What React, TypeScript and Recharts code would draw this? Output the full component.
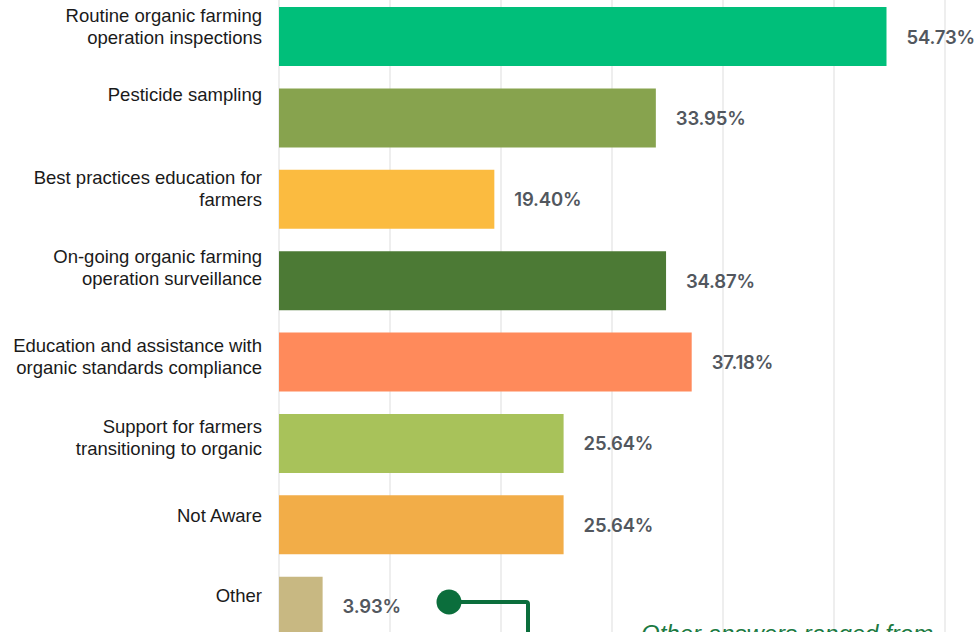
import React from "react";
import { BarChart, Bar, XAxis, YAxis, CartesianGrid, Cell, LabelList } from "recharts";

const categories = [
  "Routine organic farming\noperation inspections",
  "Pesticide sampling",
  "Best practices education for\nfarmers",
  "On-going organic farming\noperation surveillance",
  "Education and assistance with\norganic standards compliance",
  "Support for farmers\ntransitioning to organic",
  "Not Aware",
  "Other",
];
const values = [54.73, 33.95, 19.4, 34.87, 37.18, 25.64, 25.64, 3.93];
const barColors = ["#00BF7A", "#87A34E", "#FBBB40", "#4C7A35", "#FF8A5B", "#A8C25A", "#F2AD48", "#C8B882"];
const xTicks = [0, 10, 20, 30, 40, 50, 60];
const annotationText = "Other answers ranged from";

const data = categories.map((name, i) => ({ name, value: values[i] }));

// small vertical nudges of the category labels relative to the band centre
const tickNudge = [-14.7, -17.1, -15.4, -17.8, -10.2, -10.6, -3.0, -4.3];

const CategoryTick = (props: any) => {
  const { y, payload, index } = props;
  const lines = String(payload.value).split("\n");
  const dy = tickNudge[index] ?? -12;
  return (
    <text
      x={262}
      y={y + dy}
      textAnchor="end"
      fontFamily="'Liberation Sans', Arial, sans-serif"
      fontSize={18.5}
      fill="#1a1a1a"
    >
      {lines.map((l, i) => (
        <tspan key={i} x={262} dy={i === 0 ? 0 : 22}>
          {l}
        </tspan>
      ))}
    </text>
  );
};

const ValueLabel = (props: any) => {
  const { x, y, width, height, value } = props;
  return (
    <text
      x={x + width + 20}
      y={y + height / 2 + 2}
      dominantBaseline="middle"
      fontFamily="Inter, 'Noto Sans', sans-serif"
      fontWeight={600}
      fontSize={18.5}
      fill="#52575e"
      letterSpacing={-0.2}
    >
      {Number(value).toFixed(2) + "%"}
    </text>
  );
};

export default function App() {
  return (
    <div
      style={{
        position: "absolute",
        left: 0,
        top: 0,
        width: 978,
        height: 632,
        overflow: "hidden",
        background: "#ffffff",
      }}
    >
      <div style={{ position: "absolute", left: 0, top: -4 }}>
        <BarChart
          width={978}
          height={660}
          data={data}
          layout="vertical"
          margin={{ top: 0, right: 33, bottom: 9, left: 0 }}
          barSize={59}
        >
          <CartesianGrid horizontal={false} vertical={true} stroke="#e8e8e8" strokeWidth={1.5} />
          <XAxis type="number" domain={[0, 60]} ticks={xTicks} hide />
          <YAxis
            type="category"
            dataKey="name"
            width={279}
            axisLine={false}
            tickLine={false}
            tick={<CategoryTick />}
            interval={0}
          />
          <Bar dataKey="value" isAnimationActive={false}>
            {data.map((d, i) => (
              <Cell key={i} fill={barColors[i]} />
            ))}
            <LabelList dataKey="value" content={<ValueLabel />} />
          </Bar>
        </BarChart>
      </div>
      <svg
        width={978}
        height={632}
        style={{ position: "absolute", left: 0, top: 0, pointerEvents: "none" }}
      >
        <path d="M449 602 H526 Q528 602 528 604 V640" fill="none" stroke="#0B6E3C" strokeWidth={4} />
        <circle cx={449} cy={602} r={12.5} fill="#0B6E3C" />
        <text
          x={641}
          y={642}
          fontFamily="'Liberation Sans', Arial, sans-serif"
          fontStyle="italic"
          fontSize={24}
          fill="#1B7A42"
        >
          {annotationText}
        </text>
      </svg>
    </div>
  );
}
